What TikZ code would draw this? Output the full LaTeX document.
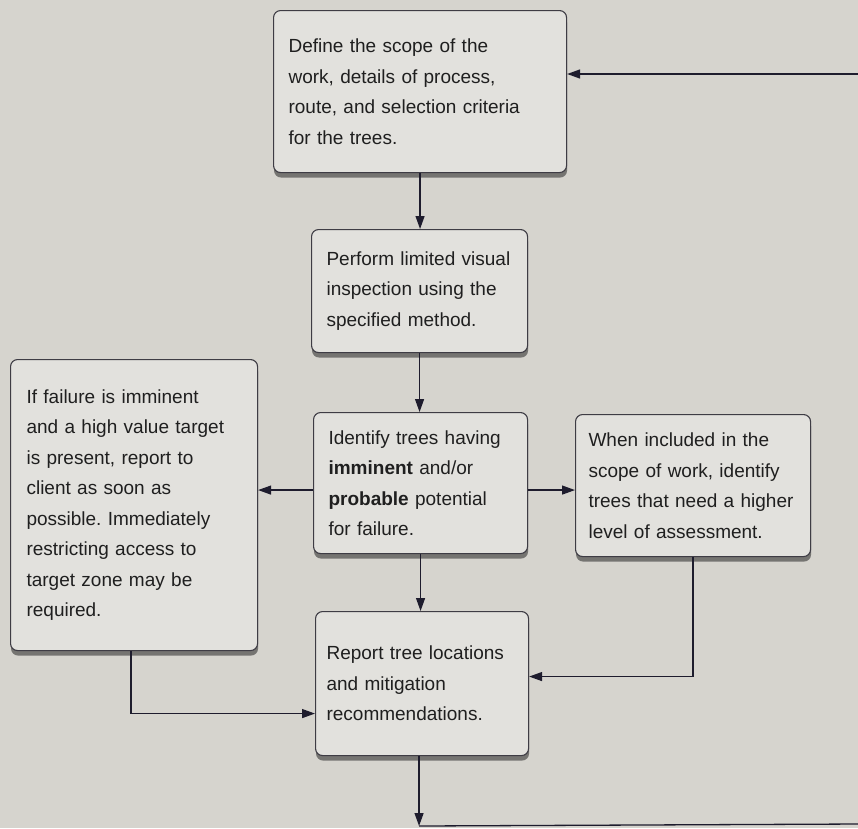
\documentclass[tikz,border=0pt]{standalone}
\usepackage{fontspec}
\setmainfont{Liberation Sans}
\usetikzlibrary{arrows.meta,shadows}
\definecolor{bgc}{RGB}{214,212,206}
\definecolor{boxfill}{RGB}{226,225,221}
\definecolor{boxline}{RGB}{62,60,68}
\definecolor{arrowc}{RGB}{30,28,45}
\frenchspacing
\begin{document}
\begin{tikzpicture}[x=1pt,y=-1pt,
  box/.style={draw=boxline, fill=boxfill, rounded corners=7pt, line width=1.1pt,
    align=left, font=\fontsize{19}{30.5}\selectfont, inner xsep=15pt, inner ysep=0pt,
    anchor=north west, text=black!88,
    drop shadow={shadow xshift=0.5pt, shadow yshift=-5pt, opacity=0.55, fill=black!85}},
  arr/.style={-{Triangle[length=13pt,width=9pt]}, line width=1.3pt, draw=arrowc},
  ln/.style={line width=1.3pt, draw=arrowc}]
\fill[bgc] (0,0) rectangle (858,828);
\useasboundingbox (0,0) rectangle (858,828);

\node[box, minimum width=293pt, minimum height=162pt, text width=263pt] (b1) at (273,10)
  {Define the scope of the\\work, details of process,\\route, and selection criteria\\for the trees.};
\node[box, minimum width=216pt, minimum height=123pt, text width=186pt] (b2) at (311,229)
  {Perform limited visual\\inspection using the\\specified method.};
\node[box, minimum width=214pt, minimum height=141pt, text width=184pt, inner xsep=14pt] (b3) at (313,412)
  {Identify trees having\\\textbf{imminent} and/or\\\textbf{probable} potential\\for failure.};
\node[box, minimum width=247pt, minimum height=291pt, text width=215pt, inner xsep=16pt] (lb) at (10,359)
  {If failure is imminent\\and a high value target\\is present, report to\\client as soon as\\possible. Immediately\\restricting access to\\target zone may be\\required.};
\node[box, minimum width=235pt, minimum height=142pt, text width=209pt, inner xsep=13pt] (rb) at (575,414)
  {When included in the\\scope of work, identify\\trees that need a higher\\level of assessment.};
\node[box, minimum width=213pt, minimum height=144pt, text width=191pt, inner xsep=11pt] (b5) at (315,611)
  {Report tree locations\\and mitigation\\recommendations.};

\coordinate (trc) at (858,74);
\coordinate (bot) at (419,826);
\coordinate (brc) at (858,824);

\draw[arr] (trc) -- (b1.east |- trc);
\draw[arr] (b1.south) -- (b1.south |- b2.north);
\draw[arr] (b2.south) -- (b2.south |- b3.north);
\draw[arr] ([yshift=-7pt]b3.west) -- ([yshift=-7pt]b3.west -| lb.east);
\draw[arr] ([yshift=-7pt]b3.east) -- ([yshift=-7pt]b3.east -| rb.west);
\draw[arr] (b3.south) -- (b3.south |- b5.north);
\draw[arr] (rb.south) |- ([yshift=7pt]b5.east);
\draw[arr] ([xshift=-3pt]lb.south) |- ([yshift=-30pt]b5.west);
\draw[arr] ([xshift=-3pt]b5.south) -- ([xshift=-3pt]b5.south |- bot);
\draw[ln] (bot) -- (brc);
\end{tikzpicture}
\end{document}
